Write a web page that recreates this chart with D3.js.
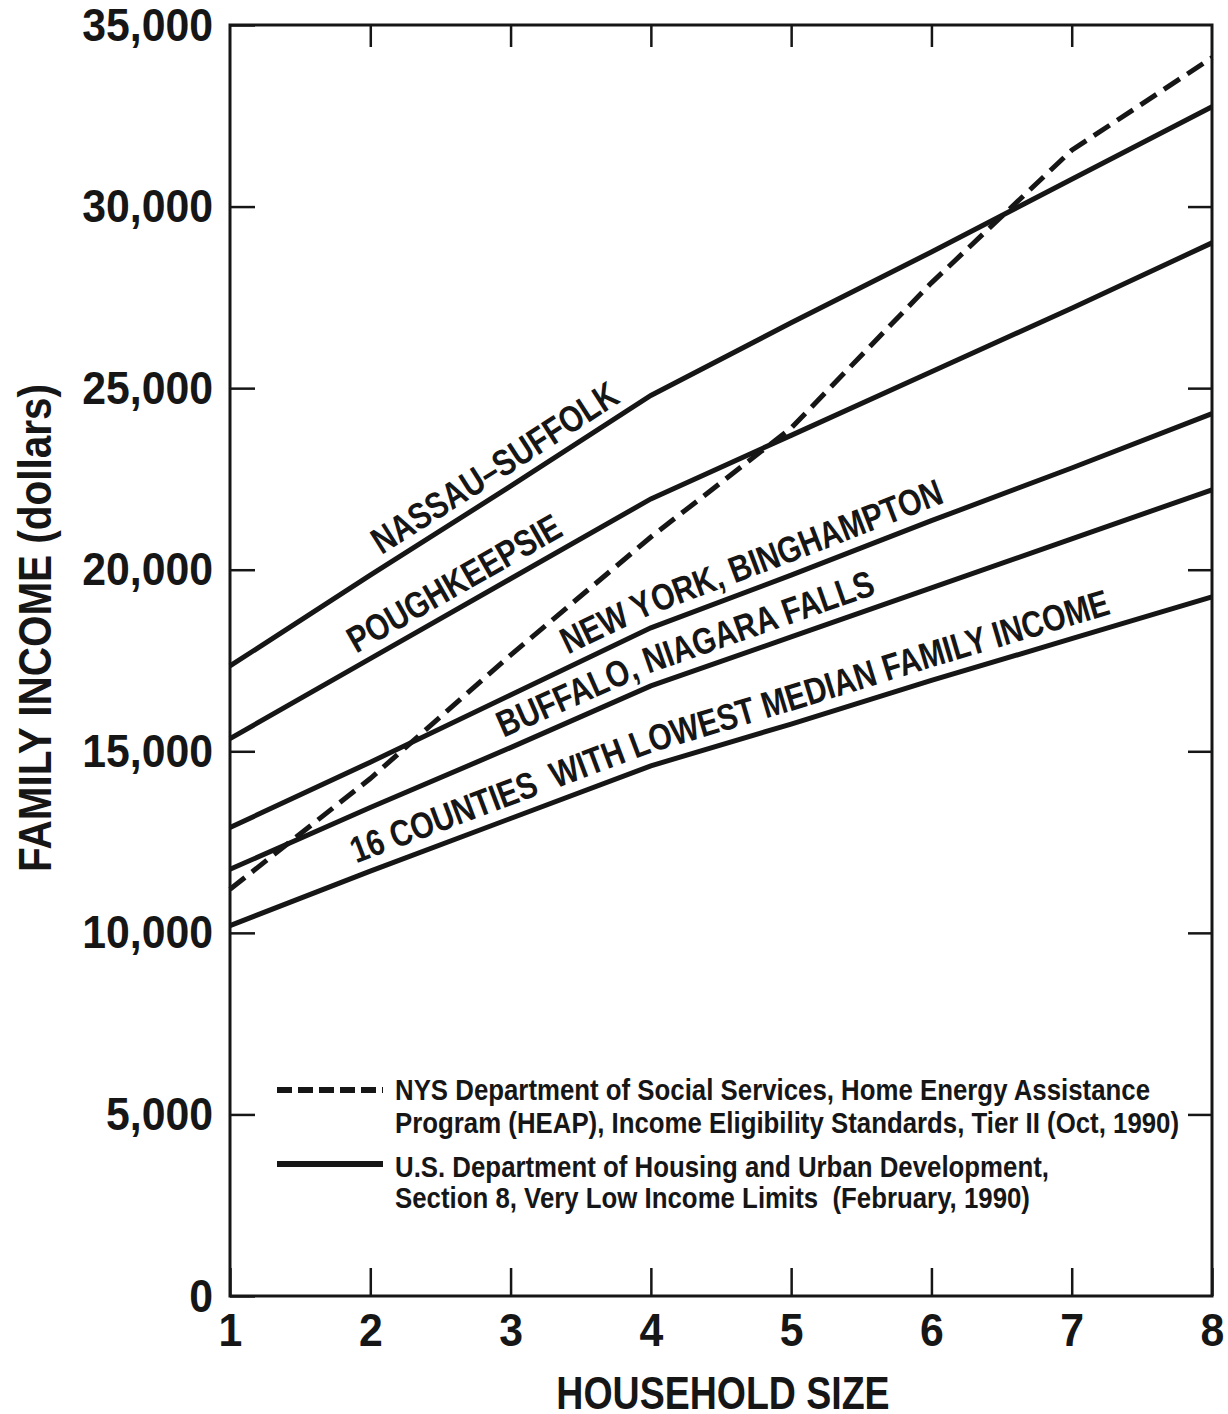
<!DOCTYPE html>
<html lang="en">
<head>
<meta charset="utf-8">
<title>Family income limits by household size</title>
<script src="https://cdn.jsdelivr.net/npm/d3@7"></script>
<style>
  body { margin: 0; background: #fff; }
  svg text { font-family: "Liberation Sans", Arial, sans-serif; font-weight: bold; fill: #161616; white-space: pre; }
</style>
</head>
<body>
<div id="chart"></div>
<script>

// household size (x axis)
var householdSize = [1, 2, 3, 4, 5, 6, 7, 8];

// HUD Section 8 very low income limits, Feb 1990 (dollars)
var nassauSuffolk = [17350, 19850, 22300, 24800, 26800, 28750, 30750, 32750];
var poughkeepsie  = [15350, 17550, 19750, 21950, 23700, 25450, 27200, 29000];
var newYork       = [12900, 14700, 16550, 18400, 19850, 21350, 22800, 24300];
var buffalo       = [11750, 13450, 15100, 16800, 18150, 19500, 20850, 22200];
var lowCounties   = [10200, 11700, 13150, 14600, 15750, 16950, 18100, 19250];

// NYS HEAP income eligibility, Tier II, Oct 1990 (dollars)
var heapTier2 = [11200, 14250, 17650, 20900, 23900, 27900, 31550, 34100];

var yTicks = [0, 5000, 10000, 15000, 20000, 25000, 30000, 35000];
var xTicks = [1, 2, 3, 4, 5, 6, 7, 8];

var seriesNames = ["NASSAU\u2013SUFFOLK", "POUGHKEEPSIE", "NEW YORK, BINGHAMPTON",
                   "BUFFALO, NIAGARA FALLS", "16 COUNTIES  WITH LOWEST MEDIAN FAMILY INCOME"];
// where each label starts, in household-size units
var labelStart = [2.08, 1.9, 3.41, 2.95, 1.9];

var legendDashed = ["NYS Department of Social Services, Home Energy Assistance",
                    "Program (HEAP), Income Eligibility Standards, Tier II (Oct, 1990)"];
var legendSolid  = ["U.S. Department of Housing and Urban Development,",
                    "Section 8, Very Low Income Limits  (February, 1990)"];

var hudSeries = [nassauSuffolk, poughkeepsie, newYork, buffalo, lowCounties];

// set the dimensions and margins of the graph
var margin = {top: 25, right: 16, bottom: 118, left: 230},
    width = 1228 - margin.left - margin.right,
    height = 1414 - margin.top - margin.bottom;

var ink = "#161616";

var svgRoot = d3.select("#chart")
  .append("svg")
    .attr("width", width + margin.left + margin.right)
    .attr("height", height + margin.top + margin.bottom);

var svg = svgRoot.append("g")
    .attr("transform", "translate(" + margin.left + "," + margin.top + ")");

var x = d3.scaleLinear().domain([1, 8]).range([0, width]);
var y = d3.scaleLinear().domain([0, 35000]).range([height, 0]);

// the original lettering is a condensed bold face: squeeze the glyphs
function condense(sel, factor) {
  sel.each(function() {
    var len = this.getComputedTextLength();
    d3.select(this)
      .attr("textLength", len * factor)
      .attr("lengthAdjust", "spacingAndGlyphs");
  });
}

// axes: ticks point inward on all four sides
function styleAxis(g) {
  g.select(".domain").remove();
  g.selectAll(".tick line").attr("stroke", ink).attr("stroke-width", 2.5);
  g.selectAll(".tick text")
      .attr("fill", ink)
      .style("font-size", "47px")
      .style("font-family", "'Liberation Sans', Arial, sans-serif")
      .call(condense, 0.91);
}

svg.append("g")
    .attr("transform", "translate(0," + height + ")")
    .call(d3.axisBottom(x).tickValues(xTicks).tickSize(-28).tickPadding(17).tickFormat(d3.format("d")))
    .call(styleAxis);

svg.append("g")
    .call(d3.axisTop(x).tickValues(xTicks.slice(1, -1)).tickSize(-22).tickFormat(""))
    .call(styleAxis);

svg.append("g")
    .call(d3.axisLeft(y).tickValues(yTicks).tickSize(-25).tickPadding(17).tickFormat(d3.format(",")))
    .call(styleAxis);

svg.append("g")
    .attr("transform", "translate(" + width + ",0)")
    .call(d3.axisRight(y).tickValues(yTicks.slice(1, -1)).tickSize(-24).tickFormat(""))
    .call(styleAxis);

// frame
svg.append("rect")
    .attr("width", width)
    .attr("height", height)
    .attr("fill", "none")
    .attr("stroke", ink)
    .attr("stroke-width", 3);

// line generator, optionally shifted up by a few pixels (for the label paths)
function lineFor(shift) {
  return d3.line()
    .x(function(d, i) { return x(householdSize[i]); })
    .y(function(d) { return y(d) - shift; });
}

// length along the polyline up to a given household size
function lengthTo(values, hh, shift) {
  var len = 0;
  for (var i = 1; i < values.length; i++) {
    var x0 = x(householdSize[i - 1]), y0 = y(values[i - 1]) - shift;
    var x1 = x(householdSize[i]),     y1 = y(values[i]) - shift;
    var seg = Math.hypot(x1 - x0, y1 - y0);
    if (hh <= householdSize[i]) {
      var t = (hh - householdSize[i - 1]) / (householdSize[i] - householdSize[i - 1]);
      return len + seg * t;
    }
    len += seg;
  }
  return len;
}

// HUD lines (solid)
svg.selectAll(".hud")
  .data(hudSeries)
  .enter()
  .append("path")
    .attr("class", "hud")
    .attr("d", lineFor(0))
    .attr("fill", "none")
    .attr("stroke", ink)
    .attr("stroke-width", 5);

// HEAP line (dashed)
svg.append("path")
    .datum(heapTier2)
    .attr("d", lineFor(0))
    .attr("fill", "none")
    .attr("stroke", ink)
    .attr("stroke-width", 5)
    .attr("stroke-dasharray", "19,9");

// labels lettered along each HUD line
var labelShift = 13;
var defs = svgRoot.append("defs");
hudSeries.forEach(function(vals, i) {
  defs.append("path")
      .attr("id", "lbl" + i)
      .attr("d", lineFor(labelShift)(vals));

  svg.append("text")
      .style("font-size", "37px")
    .append("textPath")
      .attr("href", "#lbl" + i)
      .attr("startOffset", lengthTo(vals, labelStart[i], labelShift))
      .text(seriesNames[i])
      .call(condense, 0.81);
});

// legend
var legend = svg.append("g");

legend.append("line")
    .attr("x1", 47).attr("x2", 153)
    .attr("y1", 1065).attr("y2", 1065)
    .attr("stroke", ink).attr("stroke-width", 6)
    .attr("stroke-dasharray", "15,6");

legend.append("line")
    .attr("x1", 47).attr("x2", 153)
    .attr("y1", 1139).attr("y2", 1139)
    .attr("stroke", ink).attr("stroke-width", 6);

legend.selectAll(".legtext")
  .data(legendDashed.concat(legendSolid))
  .enter()
  .append("text")
    .attr("class", "legtext")
    .attr("x", 165)
    .attr("y", function(d, i) { return [1075, 1108, 1152, 1183][i]; })
    .style("font-size", "29px")
    .text(function(d) { return d; })
    .call(condense, 0.89);

// axis titles
svgRoot.append("text")
    .attr("x", 723)
    .attr("y", 1409)
    .attr("text-anchor", "middle")
    .style("font-size", "46px")
    .text("HOUSEHOLD SIZE")
    .call(condense, 0.815);

svgRoot.append("text")
    .attr("transform", "translate(51,628) rotate(-90)")
    .attr("text-anchor", "middle")
    .style("font-size", "46px")
    .text("FAMILY INCOME (dollars)")
    .call(condense, 0.88);

</script>
</body>
</html>
